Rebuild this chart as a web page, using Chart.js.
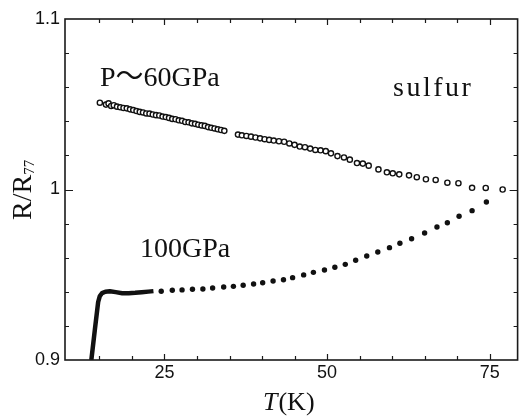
<!DOCTYPE html>
<html>
<head>
<meta charset="utf-8">
<script src="https://cdn.jsdelivr.net/npm/chart.js@4.4.0/dist/chart.umd.min.js"></script>
<style>
  html, body { margin: 0; padding: 0; background: #fff; }
</style>
</head>
<body>
<canvas id="chart" width="523" height="419"></canvas>
<script>
// P ~ 60 GPa (open circles)
const tempOpen = [15.06, 16.0, 16.4, 16.8, 17.2, 17.7, 18.2, 18.7, 19.2, 19.7, 20.2, 20.7, 21.2, 21.7,
  22.2, 22.7, 23.2, 23.7, 24.2, 24.7, 25.2, 25.7, 26.2, 26.7, 27.2, 27.7, 28.2, 28.7, 29.2, 29.7,
  30.2, 30.7, 31.2, 31.7, 32.2, 32.7, 33.2, 33.7, 34.2,
  36.3, 36.9, 37.6, 38.3, 39.0, 39.7, 40.4, 41.1, 41.8, 42.6, 43.4, 44.2, 45.0, 45.8, 46.6, 47.4,
  48.2, 49.0, 49.8, 50.6, 51.6, 52.6, 53.5, 54.6, 55.5, 56.4, 57.9, 59.2, 60.1, 61.1, 62.6, 63.8,
  65.2, 66.7, 68.5, 70.2, 72.3, 74.4, 77.0];
const ratioOpen = [1.0509, 1.0498, 1.0505, 1.0490, 1.0494, 1.0486, 1.0482, 1.0478, 1.0476, 1.0470, 1.0466, 1.0460, 1.0455, 1.0452,
  1.0446, 1.0445, 1.0440, 1.0436, 1.0434, 1.0428, 1.0425, 1.0420, 1.0414, 1.0412, 1.0406, 1.0403, 1.0396, 1.0394, 1.0388, 1.0385,
  1.0380, 1.0376, 1.0373, 1.0366, 1.0362, 1.0358, 1.0353, 1.0349, 1.0344,
  1.0322, 1.0318, 1.0314, 1.0310, 1.0305, 1.0300, 1.0295, 1.0291, 1.0287, 1.0283, 1.0280, 1.0270, 1.0262, 1.0252, 1.0248, 1.0240,
  1.0232, 1.0230, 1.0225, 1.0212, 1.0196, 1.0188, 1.0175, 1.0155, 1.0152, 1.0140, 1.0118, 1.0101, 1.0095, 1.0089, 1.0083, 1.0072,
  1.0060, 1.0056, 1.0040, 1.0037, 1.0010, 1.0009, 1.0000];

// 100 GPa (filled dots)
const tempFilled = [24.5, 26.2, 27.7, 29.3, 30.9, 32.4, 34.1, 35.6, 37.1, 38.7, 40.1, 41.7, 43.3, 44.7,
  46.4, 47.9, 49.6, 51.2, 52.8, 54.4, 56.1, 57.8, 59.6, 61.2, 63.0, 65.0, 66.9, 68.5, 70.3, 72.3, 74.5];
const ratioFilled = [0.9403, 0.9409, 0.9411, 0.9415, 0.9416, 0.9422, 0.9428, 0.9432, 0.9438, 0.9446, 0.9453, 0.9463, 0.9471, 0.9483,
  0.9499, 0.9514, 0.9528, 0.9544, 0.9561, 0.9585, 0.9610, 0.9633, 0.9659, 0.9685, 0.9711, 0.9745, 0.9780, 0.9805, 0.9843, 0.9876, 0.9927];

// 100 GPa, dense low-T run through the drop (shows as a thick line)
const tempDrop = [13.75, 14.3, 14.8, 15.05, 15.4, 15.9, 16.6, 17.5, 18.5, 19.5, 20.5, 21.5, 22.5, 23.3];
const ratioDrop = [0.900, 0.918, 0.934, 0.9375, 0.9392, 0.9400, 0.9403, 0.9398, 0.9392, 0.9391, 0.9394, 0.9398, 0.9401, 0.9404];

const xTickLabels = [25, 50, 75];
const yTickLabels = [0.9, 1, 1.1];
const xMinorTicks = [15, 20, 25, 30, 35, 40, 45, 50, 55, 60, 65, 70, 75];
const yMinorTicks = [0.92, 0.94, 0.96, 0.98, 1, 1.02, 1.04, 1.06, 1.08];

const toXY = (xs, ys) => xs.map((t, i) => ({x: t, y: ys[i]}));

// box frame with inward ticks on all four sides
const frameTicks = {
  id: 'frameTicks',
  afterDatasetsDraw(chart) {
    const {ctx, chartArea: a, scales: {x, y}} = chart;
    ctx.save();
    ctx.strokeStyle = '#1a1a1a';
    ctx.lineWidth = 1.6;
    ctx.strokeRect(a.left, a.top, a.right - a.left, a.bottom - a.top);
    ctx.lineWidth = 1.2;
    ctx.beginPath();
    xMinorTicks.forEach(v => {
      const px = Math.round(x.getPixelForValue(v)) + 0.5;
      const len = xTickLabels.includes(v) ? 6 : 4;
      ctx.moveTo(px, a.bottom); ctx.lineTo(px, a.bottom - len);
      ctx.moveTo(px, a.top); ctx.lineTo(px, a.top + len);
    });
    yMinorTicks.forEach(v => {
      const py = Math.round(y.getPixelForValue(v)) + 0.5;
      const len = yTickLabels.includes(v) ? 8 : 4;
      ctx.moveTo(a.left, py); ctx.lineTo(a.left + len, py);
      ctx.moveTo(a.right, py); ctx.lineTo(a.right - len, py);
    });
    ctx.stroke();
    ctx.restore();
  }
};

// axis titles and labels on the plot
const labels = {
  id: 'labels',
  afterDraw(chart) {
    const ctx = chart.ctx;
    ctx.save();
    ctx.fillStyle = '#111';
    ctx.textBaseline = 'alphabetic';
    ctx.textAlign = 'left';

    ctx.font = '28px "Liberation Serif", "Noto Sans CJK JP"';
    ctx.fillText('P～60GPa', 100, 86);
    ctx.fillText('100GPa', 140, 257);
    ctx.letterSpacing = '2.5px';
    ctx.fillText('sulfur', 393, 96);
    ctx.letterSpacing = '0px';

    // x title: T(K), T in italics
    ctx.font = 'italic 26px "Liberation Serif"';
    ctx.fillText('T', 263, 410);
    const tw = ctx.measureText('T').width;
    ctx.font = '26px "Liberation Serif"';
    ctx.fillText('(K)', 263 + tw + 1, 410);

    // y title: R/R77 with subscript
    ctx.translate(31, 220);
    ctx.rotate(-Math.PI / 2);
    ctx.font = '28px "Liberation Serif"';
    ctx.fillText('R/R', 0, 0);
    const rw = ctx.measureText('R/R').width;
    ctx.font = '15px "Liberation Serif"';
    ctx.fillText('77', rw, 3);
    ctx.restore();
  }
};

const tickFont = {family: '"Liberation Sans", Arial, sans-serif', size: 18};

new Chart(document.getElementById('chart').getContext('2d'), {
  type: 'scatter',
  data: {
    datasets: [
      {
        label: 'P~60GPa',
        data: toXY(tempOpen, ratioOpen),
        pointStyle: 'circle',
        pointRadius: 2.6,
        pointBorderWidth: 1.4,
        pointBackgroundColor: '#fff',
        pointBorderColor: '#111',
      },
      {
        label: '100GPa',
        data: toXY(tempFilled, ratioFilled),
        pointStyle: 'circle',
        pointRadius: 2.7,
        pointBorderWidth: 0,
        pointBackgroundColor: '#111',
      },
      {
        label: '100GPa low T',
        data: toXY(tempDrop, ratioDrop),
        showLine: true,
        pointRadius: 0,
        borderColor: '#111',
        borderWidth: 4.5,
        borderJoinStyle: 'round',
        tension: 0,
      },
    ],
  },
  options: {
    responsive: false,
    animation: false,
    devicePixelRatio: 1,
    layout: {padding: {top: 19, right: 4, left: 0, bottom: 0}},
    plugins: {legend: {display: false}, tooltip: {enabled: false}},
    scales: {
      x: {
        type: 'linear',
        min: 9.7,
        max: 79.3,
        afterBuildTicks: s => { s.ticks = xTickLabels.map(v => ({value: v})); },
        afterFit: s => { s.height = 59; },
        grid: {display: false, drawTicks: false},
        border: {display: false},
        ticks: {font: tickFont, color: '#111', padding: 2},
      },
      y: {
        type: 'linear',
        min: 0.9,
        max: 1.1,
        afterBuildTicks: s => { s.ticks = yTickLabels.map(v => ({value: v})); },
        afterFit: s => { s.width = 65; },
        grid: {display: false, drawTicks: false},
        border: {display: false},
        ticks: {font: tickFont, color: '#111', padding: 5, callback: v => String(v)},
      },
    },
  },
  plugins: [frameTicks, labels],
});
</script>
</body>
</html>
